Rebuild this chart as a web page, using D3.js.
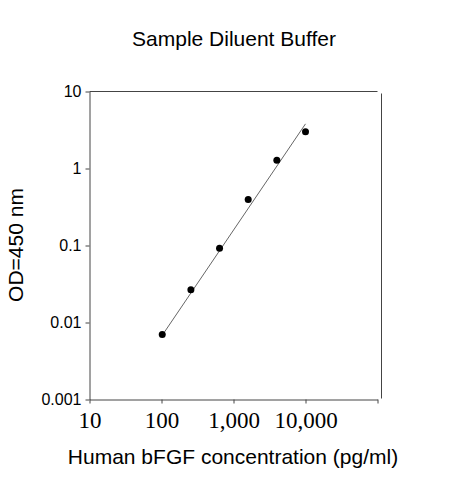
<!DOCTYPE html>
<html>
<head>
<meta charset="utf-8">
<script src="https://cdn.jsdelivr.net/npm/d3@7"></script>
<style>
  body { margin: 0; background: #fff; }
  svg { display: block; }
</style>
</head>
<body>
<svg id="chart" width="463" height="480"></svg>
<script>
// concentration (pg/ml) and OD readings
const conc = [102.4, 256, 640, 1600, 4000, 10000];
const od = [0.0070, 0.0266, 0.092, 0.395, 1.28, 3.0];
// ends of the fitted curve
const fitConc = [100, 10000];
const fitOd = [0.0066, 3.8];
const xTicks = [10, 100, 1000, 10000, 100000];
const xTickLabels = ["10", "100", "1,000", "10,000", ""];
const yTicks = [0.001, 0.01, 0.1, 1, 10];
const yTickLabels = ["0.001", "0.01", "0.1", "1", "10"];

const width = 463, height = 480;
const svg = d3.select("#chart");

const x = d3.scaleLog().domain([10, 100000]).range([89.5, 377.5]);
const y = d3.scaleLog().domain([0.001, 10]).range([399.5, 91.5]);

const axisColor = "#444";

// x axis
const gx = svg.append("g")
  .attr("transform", `translate(0,${y(0.001)})`)
  .call(d3.axisBottom(x)
    .tickValues(xTicks)
    .tickFormat((d, i) => xTickLabels[i])
    .tickSize(4)
    .tickSizeOuter(0));
gx.select(".domain").attr("stroke", axisColor);
gx.selectAll(".tick line").attr("stroke", axisColor);
gx.selectAll(".tick text")
  .attr("font-family", "'Liberation Serif', 'Times New Roman', serif")
  .attr("font-size", 23)
  .attr("fill", "#000")
  .attr("dy", "0.95em");

// y axis
const gy = svg.append("g")
  .attr("transform", `translate(${x(10)},0)`)
  .call(d3.axisLeft(y)
    .tickValues(yTicks)
    .tickFormat((d, i) => yTickLabels[i])
    .tickSize(4)
    .tickSizeOuter(0));
gy.select(".domain").attr("stroke", axisColor);
gy.selectAll(".tick line").attr("stroke", axisColor);
gy.selectAll(".tick text")
  .attr("font-family", "'Liberation Sans', Arial, sans-serif")
  .attr("font-size", 16)
  .attr("fill", "#000")
  .attr("x", -8);

// top and right frame
svg.append("line")
  .attr("x1", x(10)).attr("x2", x(100000))
  .attr("y1", y(10)).attr("y2", y(10))
  .attr("stroke", axisColor);
svg.append("line")
  .attr("x1", x(100000) + 4).attr("x2", x(100000) + 4)
  .attr("y1", y(10) + 2).attr("y2", y(0.001) - 1)
  .attr("stroke", axisColor);

// fitted line
svg.append("path")
  .datum(fitConc.map((c, i) => [c, fitOd[i]]))
  .attr("fill", "none")
  .attr("stroke", "#666")
  .attr("stroke-width", 1)
  .attr("d", d3.line().x(d => x(d[0])).y(d => y(d[1])));

// points
svg.selectAll("circle.pt")
  .data(conc.map((c, i) => [c, od[i]]))
  .enter()
  .append("circle")
  .attr("class", "pt")
  .attr("cx", d => x(d[0]))
  .attr("cy", d => y(d[1]))
  .attr("r", 3.5)
  .attr("fill", "#000");

// titles
svg.append("text")
  .attr("x", 234)
  .attr("y", 46)
  .attr("text-anchor", "middle")
  .attr("font-family", "'Liberation Sans', Arial, sans-serif")
  .attr("font-size", 21)
  .text("Sample Diluent Buffer");

svg.append("text")
  .attr("x", 233)
  .attr("y", 464)
  .attr("text-anchor", "middle")
  .attr("font-family", "'Liberation Sans', Arial, sans-serif")
  .attr("font-size", 21)
  .text("Human bFGF concentration (pg/ml)");

svg.append("text")
  .attr("transform", "translate(23,245) rotate(-90)")
  .attr("text-anchor", "middle")
  .attr("font-family", "'Liberation Sans', Arial, sans-serif")
  .attr("font-size", 21)
  .text("OD=450 nm");
</script>
</body>
</html>
